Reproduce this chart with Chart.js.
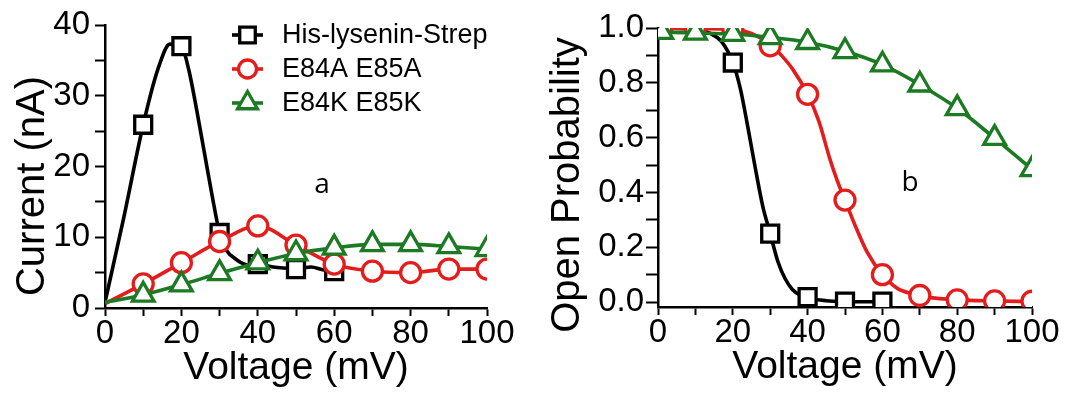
<!DOCTYPE html>
<html>
<head>
<meta charset="utf-8">
<script src="https://cdn.jsdelivr.net/npm/chart.js@4"></script>
<style>
  body { margin: 0; background: #fff; }
  #wrap { position: relative; width: 1068px; height: 397px; overflow: hidden; }
  #cA { position: absolute; left: 0; top: 0; }
  #cB { position: absolute; left: 540px; top: 0; }
</style>
</head>
<body>
<div id="wrap">
  <canvas id="cA" width="540" height="397"></canvas>
  <canvas id="cB" width="528" height="397"></canvas>
</div>
<script>
// series
const seriesNames = ['His-lysenin-Strep', 'E84A E85A', 'E84K E85K'];
const seriesColors = ['#000000', '#e41c1c', '#1b7a22'];
const markerStyles = ['rect', 'circle', 'triangle'];
const markerRadius = [12, 10, 12.5];

// panel a - current vs voltage (markers)
const strepVoltA = [10, 20, 30, 40, 50, 60];
const strepCurrent = [25.9, 37.0, 10.6, 6.2, 5.5, 5.2];
const mutVoltA = [10, 20, 30, 40, 50, 60, 70, 80, 90, 100];
const e84aCurrent = [3.4, 6.4, 9.4, 11.6, 8.9, 6.2, 5.2, 5.0, 5.5, 5.5];
const e84kCurrent = [1.85, 3.3, 4.9, 6.4, 7.7, 8.5, 9.0, 9.0, 8.7, 8.3];
// traced lines
const strepTraceV = [0, 5, 10, 14, 17, 20, 22, 24, 26, 28, 30, 32, 34, 36, 38, 40, 44, 48, 50, 54, 57, 60];
const strepTraceI = [0.8, 13, 25.9, 34, 37.3, 37.0, 33.5, 28, 22, 16, 10.6, 8.0, 7.0, 6.3, 6.0, 6.2, 5.8, 5.6, 5.5, 5.8, 5.4, 5.2];
const traceStartI = [0.8, 0.6, 0.8]; // at 0 mV

// panel b - open probability
const strepVoltB = [20, 30, 40, 50, 60];
const strepPo = [0.874, 0.25, 0.018, 0.002, 0.002];
const mutVoltB = [1, 10, 20, 30, 40, 50, 60, 70, 80, 90, 100];
const e84aPo = [1.0, 1.0, 0.995, 0.935, 0.758, 0.372, 0.10, 0.024, 0.008, 0.004, 0.003];
const e84kPo = [0.985, 0.982, 0.978, 0.966, 0.948, 0.915, 0.866, 0.793, 0.707, 0.598, 0.484];
const strepFitV = [0, 10, 14, 17, 20, 22, 24, 26, 28, 30, 32, 34, 36, 38, 40, 45, 50, 60];
const strepFitPo = [1.0, 0.995, 0.98, 0.95, 0.874, 0.78, 0.64, 0.49, 0.35, 0.25, 0.15, 0.085, 0.045, 0.025, 0.015, 0.005, 0.002, 0.001];
const e84aFitV = [0, 20, 25, 30, 33, 36, 40, 43, 46, 48, 50, 53, 56, 60, 64, 68, 72, 80, 90, 100];
const e84aFitPo = [1.0, 0.995, 0.98, 0.94, 0.9, 0.85, 0.758, 0.66, 0.52, 0.44, 0.372, 0.27, 0.18, 0.10, 0.05, 0.03, 0.018, 0.008, 0.004, 0.002];

// ticks
const xTicks = [0, 10, 20, 30, 40, 50, 60, 70, 80, 90, 100];
const xLabels = [0, 20, 40, 60, 80, 100];
const yTicksA = [0, 5, 10, 15, 20, 25, 30, 35, 40];
const yLabelsA = [0, 10, 20, 30, 40];
const yTicksB = [0, 0.1, 0.2, 0.3, 0.4, 0.5, 0.6, 0.7, 0.8, 0.9, 1.0];
const yLabelsB = ['0.0', '0.2', '0.4', '0.6', '0.8', '1.0'];

const pts = (xs, ys) => xs.map((x, i) => ({ x: x, y: ys[i] }));
const FONT = 'Liberation Sans, Arial, sans-serif';

function lineSet(data, i) {
  return {
    data: data, showLine: true, pointRadius: 0, borderColor: seriesColors[i],
    borderWidth: 3.6, cubicInterpolationMode: 'monotone', order: 5 - 2 * i
  };
}
function markerSet(data, i) {
  return {
    label: seriesNames[i], data: data, showLine: false, pointStyle: markerStyles[i],
    pointRadius: markerRadius[i], pointBorderWidth: 3.3, pointBorderColor: seriesColors[i],
    pointBackgroundColor: '#ffffff', order: 4 - 2 * i
  };
}

function axis(ticks, labels, min, max, opts) {
  return {
    type: 'linear', min: min, max: max,
    afterBuildTicks: s => { s.ticks = ticks.map(v => ({ value: v })); },
    afterFit: s => { if (opts.width) s.width = opts.width; if (opts.height) s.height = opts.height; },
    border: { color: '#000', width: 2.5 },
    grid: { drawOnChartArea: false, drawTicks: true, tickLength: opts.tickLength, tickWidth: 2, tickColor: '#000' },
    ticks: {
      color: '#000', padding: opts.pad, maxRotation: 0, autoSkip: false,
      font: { family: FONT, size: 33, lineHeight: 1 },
      callback: v => {
        const k = labels.findIndex(l => Math.abs(Number(l) - v) < 1e-6);
        return k >= 0 ? String(labels[k]) : '';
      }
    },
    title: {
      display: !!opts.title, text: opts.title, color: '#000', padding: opts.titlePad,
      font: { family: FONT, size: 39, lineHeight: 1 }
    }
  };
}

const overlay = {
  id: 'overlay',
  afterDatasetsDraw(chart, args, o) {
    const ctx = chart.ctx;
    ctx.save();
    ctx.fillStyle = '#000';
    ctx.font = '28px "Open Sans"';
    ctx.textAlign = 'center';
    ctx.textBaseline = 'middle';
    ctx.fillText(o.letter, o.letterX, o.letterY);
    // y axis title
    ctx.save();
    ctx.translate(o.yTitleX, o.yTitleY);
    ctx.rotate(-Math.PI / 2);
    ctx.font = '40px ' + FONT;
    ctx.fillText(o.yTitle, 0, 0);
    ctx.restore();
    if (o.legend) {
      seriesNames.forEach((name, i) => {
        const y = o.legendY + i * o.legendGap;
        ctx.strokeStyle = seriesColors[i];
        ctx.lineWidth = 3.6;
        ctx.beginPath();
        ctx.moveTo(232, y);
        ctx.lineTo(263, y);
        ctx.stroke();
        ctx.lineWidth = 3.3;
        ctx.fillStyle = '#fff';
        Chart.helpers.drawPoint(ctx, { pointStyle: markerStyles[i], radius: markerRadius[i] - 1, borderWidth: 3.3 }, 247.5, y);
        ctx.fillStyle = '#000';
        ctx.font = '27px ' + FONT;
        ctx.textAlign = 'left';
        ctx.fillText(name, 282, y + 1);
      });
    }
    ctx.restore();
  }
};

new Chart(document.getElementById('cA'), {
  type: 'scatter',
  data: {
    datasets: [
      lineSet(pts(strepTraceV, strepTraceI), 0),
      markerSet(pts(strepVoltA, strepCurrent), 0),
      lineSet([{ x: 0, y: traceStartI[1] }].concat(pts(mutVoltA, e84aCurrent)), 1),
      markerSet(pts(mutVoltA, e84aCurrent), 1),
      lineSet([{ x: 0, y: traceStartI[2] }].concat(pts(mutVoltA, e84kCurrent)), 2),
      markerSet(pts(mutVoltA, e84kCurrent), 2)
    ]
  },
  options: {
    responsive: false, animation: false, devicePixelRatio: 1,
    layout: { padding: { left: 0, right: 53, top: 25, bottom: 0 } },
    plugins: {
      legend: { display: false }, tooltip: { enabled: false },
      overlay: { letter: 'a', letterX: 322, letterY: 185, legend: true, legendY: 35, legendGap: 34,
                 yTitle: 'Current (nA)', yTitleX: 33, yTitleY: 186 }
    },
    scales: {
      x: axis(xTicks, xLabels, 0, 100, { height: 89, tickLength: 8, pad: 1, title: 'Voltage (mV)', titlePad: { top: 0, bottom: 9 } }),
      y: axis(yTicksA, yLabelsA, 0, 40, { width: 105, tickLength: 10, pad: 5 })
    }
  },
  plugins: [overlay]
});

new Chart(document.getElementById('cB'), {
  type: 'scatter',
  data: {
    datasets: [
      lineSet(pts(strepFitV, strepFitPo), 0),
      markerSet(pts(strepVoltB, strepPo), 0),
      lineSet(pts(e84aFitV, e84aFitPo), 1),
      markerSet(pts(mutVoltB, e84aPo), 1),
      lineSet(pts(mutVoltB, e84kPo), 2),
      markerSet(pts(mutVoltB, e84kPo), 2)
    ]
  },
  options: {
    responsive: false, animation: false, devicePixelRatio: 1,
    layout: { padding: { left: 0, right: 36, top: 28, bottom: 0 } },
    plugins: {
      legend: { display: false }, tooltip: { enabled: false },
      overlay: { letter: 'b', letterX: 370, letterY: 183, legend: false,
                 yTitle: 'Open Probability', yTitleX: 28, yTitleY: 185 }
    },
    scales: {
      x: axis(xTicks, xLabels, 0, 100, { height: 90, tickLength: 8, pad: 1, title: 'Voltage (mV)', titlePad: { top: 0, bottom: 10 } }),
      y: axis(yTicksB, yLabelsB, -0.018, 1.0, { width: 118, tickLength: 12, pad: 2 })
    }
  },
  plugins: [overlay]
});
</script>
</body>
</html>
